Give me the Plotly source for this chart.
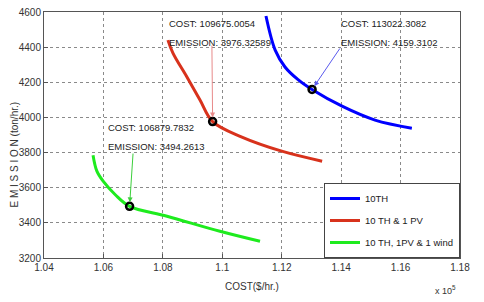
import plotly.graph_objects as go

# ---- data (cost in units of 1e5 $/hr, emission in ton/hr) ----
series_names = ["10TH", "10 TH & 1 PV", "10 TH, 1PV & 1 wind"]

cost_10th = [1.1147, 1.1178, 1.1211, 1.1255, 1.1302, 1.1403, 1.1514, 1.1638]
emis_10th = [4577, 4383, 4287, 4215, 4159, 4064, 3985, 3939]

cost_pv = [1.0817, 1.0834, 1.0881, 1.0925, 1.09675, 1.1066, 1.1200, 1.1336]
emis_pv = [4440, 4366, 4230, 4099, 3976, 3888, 3808, 3751]

cost_wind = [1.0565, 1.0578, 1.0599, 1.0640, 1.0688, 1.0814, 1.0992, 1.1127]
emis_wind = [3785, 3694, 3637, 3560, 3494, 3438, 3352, 3295]

# highlighted points (data tips)
tip_cost = [1.130223082, 1.096750054, 1.068797832]
tip_emis = [4159.3102, 3976.32589, 3494.2613]
tip_text_cost = ["113022.3082", "109675.0054", "106879.7832"]
tip_text_emis = ["4159.3102", "3976.32589", "3494.2613"]

x_ticks = [1.04, 1.06, 1.08, 1.10, 1.12, 1.14, 1.16, 1.18]
x_ticklabels = ["1.04", "1.06", "1.08", "1.1", "1.12", "1.14", "1.16", "1.18"]
y_ticks = [3200, 3400, 3600, 3800, 4000, 4200, 4400, 4600]

colors = ["#0000ff", "#d8321c", "#1eeb1e"]
arrow_colors = ["#5a5aee", "#e88a8a", "#3ccf3c"]

FONT = "Liberation Sans Narrow, Arial Narrow, Liberation Sans, Arial"

fig = go.Figure()
for k, (name, xs, ys, c) in enumerate(zip(series_names, [cost_10th, cost_pv, cost_wind],
                                          [emis_10th, emis_pv, emis_wind], colors)):
    fig.add_trace(go.Scatter(x=xs, y=ys, mode="lines", name=name, legendgroup="g%d" % k,
                             line=dict(color=c, width=3, shape="spline", smoothing=1.0)))

fig.add_trace(go.Scatter(x=tip_cost, y=tip_emis, mode="markers", showlegend=False,
                         marker=dict(symbol="circle-open", size=7, color="black",
                                     line=dict(width=2.5, color="black"))))

# annotation layout (tail of arrow and text position in data coords)
arrow_tail = [(1.1399, 4401), (1.0965, 4418), (1.0700, 3803)]
text_pos = [(1.1396, 4532, 4429), (1.0816, 4537, 4429), (1.0612, 3940, 3832)]

annotations = []
for i in range(3):
    tx, ty = arrow_tail[i]
    annotations.append(dict(x=tip_cost[i], y=tip_emis[i], ax=tx, ay=ty,
                            xref="x", yref="y", axref="x", ayref="y", text="",
                            showarrow=True, arrowhead=2, arrowsize=1, arrowwidth=1,
                            arrowcolor=arrow_colors[i], standoff=4))
    px, py1, py2 = text_pos[i]
    annotations.append(dict(x=px, y=py1, xref="x", yref="y", xanchor="left", yanchor="middle",
                            text="COST: " + tip_text_cost[i], showarrow=False, borderpad=0,
                            font=dict(family=FONT, size=9.5, color="#222")))
    annotations.append(dict(x=px, y=py2, xref="x", yref="y", xanchor="left", yanchor="middle",
                            text="EMISSION: " + tip_text_emis[i], showarrow=False, borderpad=0,
                            font=dict(family=FONT, size=9.5, color="#222")))

annotations.append(dict(xref="paper", yref="paper", x=0, y=0.5, xshift=-30.5, yshift=-20,
                        xanchor="center", yanchor="middle",
                        text="E M I S S I O N (ton/hr.)", textangle=-90, showarrow=False,
                        font=dict(family=FONT, size=10, color="#333")))
annotations.append(dict(xref="paper", yref="paper", x=0.5, y=0, yshift=-28,
                        xanchor="center", text="COST($/hr.)", showarrow=False, yanchor="middle",
                        font=dict(family=FONT, size=10, color="#333")))
annotations.append(dict(xref="paper", yref="paper", x=1, y=0, xshift=-2, yshift=-40,
                        xanchor="right", text="x 10<sup>5</sup>", showarrow=False,
                        yanchor="bottom",
                        font=dict(family=FONT, size=9, color="#333")))

# the page body has an 8px margin, so the figure is shrunk and margins reduced by 8px
fig.update_layout(
    width=476, height=294,
    margin=dict(l=36, r=24, t=4, b=44, autoexpand=False),
    paper_bgcolor="white", plot_bgcolor="white",
    font=dict(family=FONT, size=10, color="#333"),
    showlegend=True,
    legend=dict(x=1, y=0, xanchor="right", yanchor="bottom",
                bgcolor="white", bordercolor="#444", borderwidth=1,
                font=dict(family=FONT, size=9.5, color="#222"),
                tracegroupgap=3, itemwidth=30),
    annotations=annotations,
)
fig.update_xaxes(range=[1.04, 1.18], tickvals=x_ticks, ticktext=x_ticklabels,
                 automargin=False, ticklabeloverflow="allow",
                 showgrid=True, gridcolor="#8a8a8a", griddash="dot", gridwidth=1,
                 showline=True, mirror=True, linecolor="#555", linewidth=1,
                 ticks="inside", ticklen=4, tickcolor="#555", zeroline=False,
                 tickfont=dict(family=FONT, size=10, color="#333"))
fig.update_yaxes(range=[3200, 4600], tickvals=y_ticks, automargin=False,
                 ticklabeloverflow="allow",
                 showgrid=True, gridcolor="#8a8a8a", griddash="dot", gridwidth=1,
                 showline=True, mirror=True, linecolor="#555", linewidth=1,
                 ticks="inside", ticklen=4, tickcolor="#555", zeroline=False,
                 tickfont=dict(family=FONT, size=10, color="#333"))

fig.write_html("out.html")
